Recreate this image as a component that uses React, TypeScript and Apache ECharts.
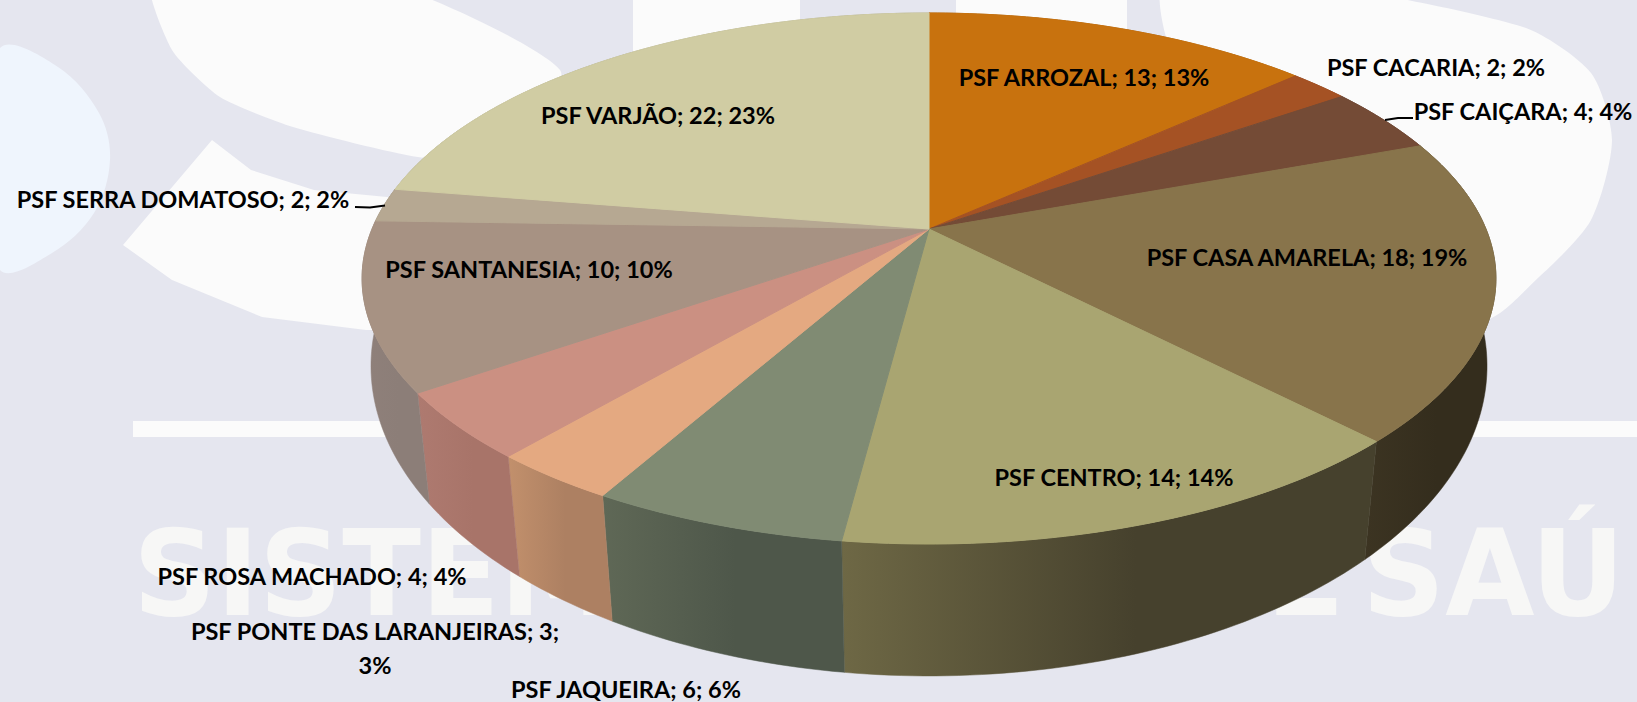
import React, { useEffect, useRef } from "react";
import * as echarts from "echarts";

// ---- data ----
const categories = ["PSF ARROZAL", "PSF CACARIA", "PSF CAIÇARA", "PSF CASA AMARELA", "PSF CENTRO", "PSF JAQUEIRA", "PSF PONTE DAS LARANJEIRAS", "PSF ROSA MACHADO", "PSF SANTANESIA", "PSF SERRA DOMATOSO", "PSF VARJÃO"];
const values = [13, 2, 4, 18, 14, 6, 3, 4, 10, 2, 22];
const percents = [13, 2, 4, 19, 14, 6, 3, 4, 10, 2, 23];

// ---- style ----
const topColors = ["#C8720E", "#A55224", "#744B36", "#88744B", "#A9A571", "#808B73", "#E4A981", "#CB9082", "#A79283", "#B6A892", "#D0CCA3"];
const wallStart = ["#8A4F0A", "#733919", "#513426", "#3C3422", "#6E6845", "#5F6856", "#C2906C", "#AE7A70", "#8F807A", "#7F7566", "#918E72"];
const wallEnd = ["#8A4F0A", "#733919", "#513426", "#342D1D", "#46412D", "#4E574A", "#AD8062", "#A87469", "#8C7E78", "#7F7566", "#918E72"];

// ---- layout ----
const labelX = [1084, 1436, 1523, 1307, 1114, 626, 375, 312, 529, 183, 658];
const labelY = [77, 67, 111, 257, 477, 689, 647.5, 576, 269, 199, 115];
const labelBreak = [0, 0, 0, 0, 0, 0, 1, 0, 0, 0, 0];
const leaderLines: Record<number, number[][]> = {
  2: [[1385, 120], [1398, 118], [1413, 118]],
  9: [[355, 207], [370, 207.5], [385, 205.5]],
};

const total = values.reduce((a, b) => a + b, 0);
const cumulative = values.reduce<number[]>((acc, v) => [...acc, acc[acc.length - 1] + v], [0]);

const topDisc = { cx: 929, cy: 229, a: 557, h: 256.3, k: 0.1864 };
const baseDisc = { cx: 929, cy: 313.3, a: 549.9, h: 301, k: 0.17 };

function project(disc: typeof topDisc, theta: number) {
  const u = Math.sin(theta);
  const v = Math.cos(theta);
  const w = 1 + disc.k * v;
  return [disc.cx + (disc.a * u) / w, disc.cy - (disc.h * v) / w];
}

function rim(disc: typeof topDisc, idx: number) {
  const a0 = (cumulative[idx] / total) * Math.PI * 2;
  const a1 = (cumulative[idx + 1] / total) * Math.PI * 2;
  const steps = Math.max(2, Math.ceil((a1 - a0) / (Math.PI / 180)));
  const pts: number[][] = [];
  for (let i = 0; i <= steps; i++) pts.push(project(disc, a0 + ((a1 - a0) * i) / steps));
  return pts;
}

const renderWall = (params: any) => {
  const i = params.dataIndex;
  const pts = [...rim(topDisc, i), ...rim(baseDisc, i).reverse()];
  const grad = () =>
    new echarts.graphic.LinearGradient(0, 0, 1, 0, [
      { offset: 0, color: wallStart[i] },
      { offset: 0.55, color: wallEnd[i] },
      { offset: 1, color: wallEnd[i] },
    ]);
  return {
    type: "polygon",
    shape: { points: pts },
    style: { fill: grad(), stroke: grad(), lineWidth: 0.5 },
    silent: true,
  };
};

const renderTop = (params: any) => {
  const i = params.dataIndex;
  const pts = [[topDisc.cx, topDisc.cy], ...rim(topDisc, i)];
  return {
    type: "polygon",
    shape: { points: pts },
    style: { fill: topColors[i], stroke: topColors[i], lineWidth: 1 },
    silent: true,
  };
};

const renderLabel = (params: any, api: any) => {
  const i = params.dataIndex;
  const text = labelBreak[i]
    ? `${categories[i]}; ${api.value(0)};\n${percents[i]}%`
    : `${categories[i]}; ${api.value(0)}; ${percents[i]}%`;
  const children: any[] = [
    {
      type: "text",
      style: {
        text,
        x: labelX[i],
        y: labelY[i],
        fill: "#000000",
        font: 'bold 23.5px Lato, "Noto Sans", sans-serif',
        lineHeight: 34,
        align: "center",
        verticalAlign: "middle",
      },
      silent: true,
    },
  ];
  if (leaderLines[i]) {
    children.push({
      type: "polyline",
      shape: { points: leaderLines[i] },
      style: { stroke: "#000000", lineWidth: 2, fill: "none" },
      silent: true,
    });
  }
  return { type: "group", children };
};

const WHITE = "#FBFBFB";
const markFont = 'bold 119px "DejaVu Sans"';
const watermark: any[] = [
  { type: "polygon", shape: { smooth: 0.35, points: [[0, 48], [58, 67], [99, 113], [110, 160], [94, 213], [52, 253], [0, 270], [-30, 160]] }, style: { fill: "#EFF5FD" } },
  { type: "polygon", shape: { smooth: 0.2, points: [[152, -20], [172, 50], [220, 97], [293, 127], [418, 157], [520, 160], [560, 70], [376, -20]] }, style: { fill: WHITE } },
  { type: "polygon", shape: { points: [[212, 140], [123, 245], [172, 280], [262, 317], [366, 330], [500, 330], [500, 200], [387, 197], [314, 190], [251, 170]] }, style: { fill: WHITE } },
  { type: "rect", shape: { x: 633, y: 0, width: 167, height: 60 }, style: { fill: WHITE } },
  { type: "rect", shape: { x: 956, y: 0, width: 171, height: 60 }, style: { fill: WHITE } },
  { type: "polygon", shape: { smooth: 0.25, points: [[1164, -20], [1289, -20], [1523, 27], [1591, 73], [1612, 140], [1591, 220], [1539, 277], [1480, 320], [1300, 200], [1175, 60]] }, style: { fill: WHITE } },
  { type: "rect", shape: { x: 133, y: 421, width: 300, height: 16 }, style: { fill: WHITE } },
  { type: "rect", shape: { x: 1400, y: 421, width: 237, height: 16 }, style: { fill: WHITE } },
  { type: "text", x: 133, y: 574, scaleX: 0.97, style: { text: "SISTEMA", fill: "#F7F7F6", font: markFont, align: "left", verticalAlign: "middle" } },
  { type: "text", x: 1170, y: 574, scaleX: 0.97, style: { text: "DE", fill: "#F7F7F6", font: markFont, align: "left", verticalAlign: "middle" } },
  { type: "text", x: 1362, y: 574, scaleX: 0.97, style: { text: "SAÚ", fill: "#F7F7F6", font: markFont, align: "left", verticalAlign: "middle" } },
];

export default function App() {
  const ref = useRef<HTMLDivElement>(null);
  useEffect(() => {
    document.body.style.margin = "0";
    const chart = echarts.init(ref.current!, undefined, { renderer: "svg" });
    const data = values.map((v, i) => ({ name: categories[i], value: v }));
    chart.setOption({
      animation: false,
      backgroundColor: "#E5E6EF",
      tooltip: { show: false },
      graphic: { elements: watermark.map((e) => ({ ...e, silent: true, z: 0 })) },
      series: [
        { type: "custom", name: "walls", coordinateSystem: "none", z: 2, data, renderItem: renderWall, silent: true },
        { type: "custom", name: "tops", coordinateSystem: "none", z: 3, data, renderItem: renderTop, silent: true },
        { type: "custom", name: "labels", coordinateSystem: "none", z: 4, data, renderItem: renderLabel, silent: true },
      ],
    });
    return () => chart.dispose();
  }, []);
  return <div ref={ref} style={{ width: 1637, height: 702, overflow: "hidden" }} />;
}
